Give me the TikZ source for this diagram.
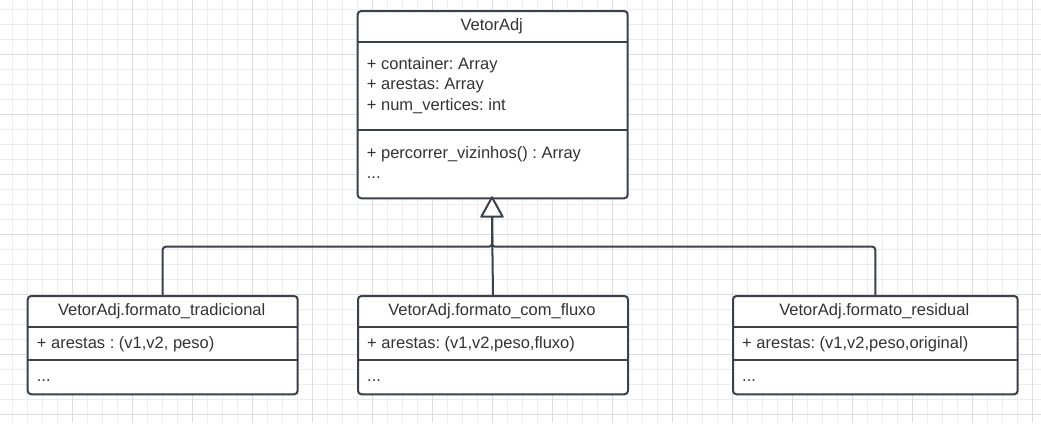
\documentclass[tikz,border=0pt]{standalone}
\usepackage{fontspec}
\setmainfont{Liberation Sans}
\usetikzlibrary{calc}
\frenchspacing
\definecolor{gridminor}{HTML}{EDEDED}
\definecolor{gridmajor}{HTML}{DCDCDC}
\definecolor{boxline}{HTML}{3A414A}
\definecolor{txt}{HTML}{333333}
\tikzset{
  classbox/.style={draw=boxline, line width=2pt, fill=white, rounded corners=3.5pt,
    inner sep=0pt, anchor=north west},
  sepline/.style={draw=boxline, line width=2pt},
  conn/.style={draw=boxline, line width=2pt},
  lbl/.style={text=txt, inner sep=0pt, anchor=base west, font=\frenchspacing\fontsize{16.5}{20.5}\selectfont},
  ttl/.style={text=txt, inner sep=0pt, anchor=base, font=\frenchspacing\fontsize{16.5}{20.5}\selectfont},
}
\begin{document}
\begin{tikzpicture}[x=1pt,y=-1pt]
\useasboundingbox (0,0) rectangle (1041,423);
\fill[white] (0,0) rectangle (1041,423);
% grid
\foreach \x in {12.3,27.3,...,1041} \draw[gridminor, line width=1pt] (\x,0) -- (\x,423);
\foreach \y in {9.3,24.3,...,423} \draw[gridminor, line width=1pt] (0,\y) -- (1041,\y);
\foreach \x in {72,132,...,1041} \draw[gridmajor, line width=1pt] (\x,0) -- (\x,423);
\foreach \y in {54.3,114.3,...,423} \draw[gridmajor, line width=1pt] (0,\y) -- (1041,\y);

% top class
\node[classbox, minimum width=270pt, minimum height=187.3pt] (top) at (356.7,10) {};
\draw[sepline] (356.7,42) -- (626.7,42);
\draw[sepline] (356.7,130) -- (626.7,130);
\node[ttl] (topname) at (491.7,30) {VetorAdj};
\node[lbl] (a1) at (366.7,69.3) {+ container: Array};
\node[lbl] (a2) at (366.7,89.8) {+ arestas: Array};
\node[lbl] (a3) at (366.7,110.3) {+ num\_vertices: int};
\node[lbl] (m1) at (366.7,158.2) {+ percorrer\_vizinhos() : Array};
\node[lbl] (m2) at (366.7,178.2) {...};

% left class
\node[classbox, minimum width=270pt, minimum height=98.3pt] (left) at (26.7,295) {};
\draw[sepline] (26.7,327.3) -- (296.7,327.3);
\draw[sepline] (26.7,360) -- (296.7,360);
\node[ttl] (leftname) at (161.7,315) {VetorAdj.formato\_tradicional};
\node[lbl] (la) at (36.7,348.2) {+ arestas : (v1,v2, peso)};
\node[lbl] (lm) at (36.7,381) {...};

% middle class
\node[classbox, minimum width=270pt, minimum height=98.3pt] (mid) at (357,295) {};
\draw[sepline] (357,327.3) -- (627,327.3);
\draw[sepline] (357,360) -- (627,360);
\node[ttl] (midname) at (492,315) {VetorAdj.formato\_com\_fluxo};
\node[lbl] (ma) at (367,348.2) {+ arestas: (v1,v2,peso,fluxo)};
\node[lbl] (mm) at (367,381) {...};

% right class
\node[classbox, minimum width=284.7pt, minimum height=98.3pt] (right) at (732,295) {};
\draw[sepline] (732,327.3) -- (1016.7,327.3);
\draw[sepline] (732,360) -- (1016.7,360);
\node[ttl] (rightname) at (874.3,315) {VetorAdj.formato\_residual};
\node[lbl] (ra) at (742,348.2) {+ arestas: (v1,v2,peso,original)};
\node[lbl] (rm) at (742,381) {...};

% connectors
\coordinate (apex) at (492,197.3);
\coordinate (tri) at (492,216.7);
\coordinate (j) at (492,246.7);
\draw[conn, rounded corners=3pt] (left.north) |- (j) -- (tri);
\draw[conn, rounded corners=3pt] (right.north) |- (j) -- (tri);
\draw[conn] (mid.north) -- (tri);
\draw[conn, fill=white, line join=round] (apex) -- ($(tri)+(-10.7,0)$) -- ($(tri)+(10.7,0)$) -- cycle;
\end{tikzpicture}
\end{document}
